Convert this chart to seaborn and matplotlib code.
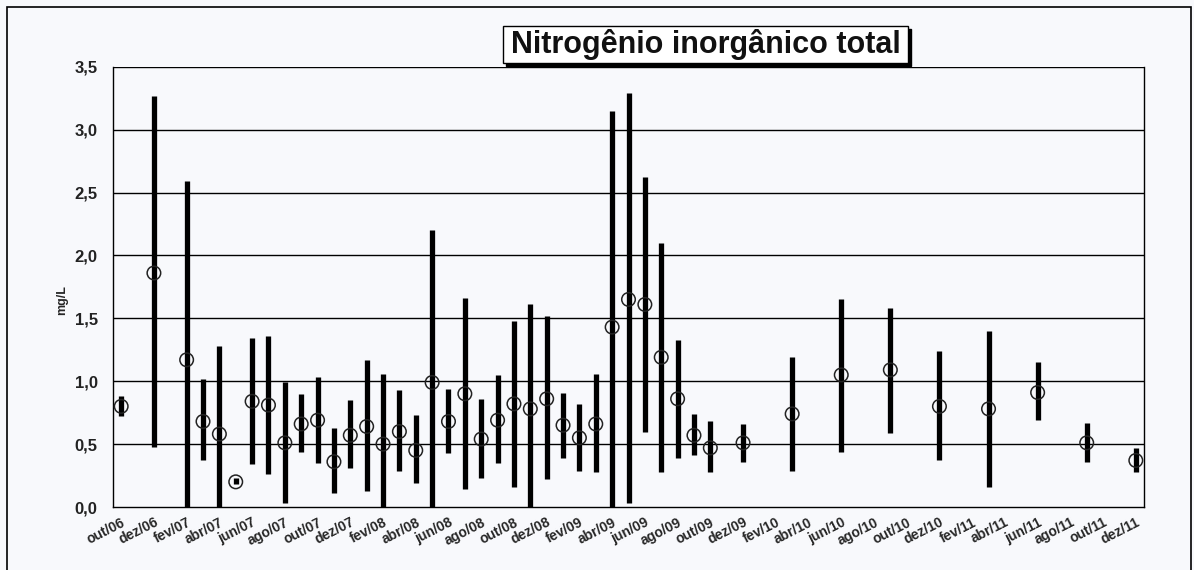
import numpy as np
import pandas as pd
import seaborn as sns
import matplotlib.pyplot as plt
from matplotlib.patches import Rectangle

# eixo mensal out/06 .. dez/11
meses_pt = ['jan', 'fev', 'mar', 'abr', 'mai', 'jun', 'jul', 'ago', 'set', 'out', 'nov', 'dez']
months = []
for ano in range(6, 12):
    for m in meses_pt:
        months.append(f"{m}/{ano:02d}")
months = months[months.index('out/06'):months.index('dez/11') + 1]

# campanhas amostradas (min, max, media) em mg/L
sample_months = ['out/06', 'dez/06', 'fev/07', 'mar/07', 'abr/07', 'mai/07', 'jun/07', 'jul/07',
                 'ago/07', 'set/07', 'out/07', 'nov/07', 'dez/07', 'jan/08', 'fev/08', 'mar/08',
                 'abr/08', 'mai/08', 'jun/08', 'jul/08', 'ago/08', 'set/08', 'out/08', 'nov/08',
                 'dez/08', 'jan/09', 'fev/09', 'mar/09', 'abr/09', 'mai/09', 'jun/09', 'jul/09',
                 'ago/09', 'set/09', 'out/09', 'dez/09', 'mar/10', 'jun/10', 'set/10', 'dez/10',
                 'mar/11', 'jun/11', 'set/11', 'dez/11']
v_min = [0.72, 0.48, 0.00, 0.37, 0.00, 0.18, 0.34, 0.26,
         0.03, 0.44, 0.35, 0.11, 0.31, 0.13, 0.00, 0.29,
         0.19, 0.00, 0.43, 0.14, 0.23, 0.35, 0.16, 0.00,
         0.22, 0.39, 0.29, 0.28, 0.00, 0.03, 0.60, 0.28,
         0.39, 0.41, 0.28, 0.36, 0.29, 0.44, 0.59, 0.37,
         0.16, 0.69, 0.36, 0.28]
v_max = [0.88, 3.27, 2.59, 1.02, 1.28, 0.23, 1.34, 1.36,
         0.99, 0.90, 1.03, 0.63, 0.85, 1.17, 1.06, 0.93,
         0.73, 2.20, 0.94, 1.66, 0.86, 1.05, 1.48, 1.61,
         1.52, 0.91, 0.82, 1.06, 3.15, 3.29, 2.62, 2.10,
         1.33, 0.74, 0.68, 0.66, 1.19, 1.65, 1.58, 1.24,
         1.40, 1.15, 0.67, 0.47]
v_mean = [0.80, 1.86, 1.17, 0.68, 0.58, 0.20, 0.84, 0.81,
          0.51, 0.66, 0.69, 0.36, 0.57, 0.64, 0.50, 0.60,
          0.45, 0.99, 0.68, 0.90, 0.54, 0.69, 0.82, 0.78,
          0.86, 0.65, 0.55, 0.66, 1.43, 1.65, 1.61, 1.19,
          0.86, 0.57, 0.47, 0.51, 0.74, 1.05, 1.09, 0.80,
          0.78, 0.91, 0.51, 0.37]

df = pd.DataFrame({'mes': sample_months, 'min': v_min, 'max': v_max, 'media': v_mean})
df['pos'] = df['mes'].map(months.index)

sns.set_style('white')
plt.rcParams['font.family'] = ['Liberation Sans', 'DejaVu Sans']
bg = '#f8f9fc'
W, H = 1194, 570

fig = plt.figure(figsize=(W / 100, H / 100), dpi=100, facecolor=bg)
ax = fig.add_axes([113 / W, 1 - 507 / H, (1144 - 113) / W, (507 - 66.7) / H])
ax.set_facecolor(bg)

# linhas de grade
for yv in np.arange(0.5, 3.51, 0.5):
    ax.axhline(yv, color='black', lw=1.0, zorder=1)

# barras min-max
ax.vlines(df['pos'], df['min'], df['max'], color='black', lw=3.8, zorder=2)
# media
sns.scatterplot(data=df, x='pos', y='media', ax=ax, marker='o', s=95,
                facecolor='none', edgecolor='#222222', linewidth=1.1, zorder=3)

ax.set_xlim(-0.5, len(months) - 0.5)
ax.set_ylim(0, 3.5)
ax.set_yticks(np.arange(0, 3.51, 0.5))
ax.set_yticklabels([f"{v:.1f}".replace('.', ',') for v in np.arange(0, 3.51, 0.5)],
                   fontsize=12, fontweight='bold', color='#222222')
ax.tick_params(axis='y', direction='out', length=6, width=1, color='black', pad=5)

ax.set_xticks(np.arange(-0.5, len(months) - 0.5, 2))
ax.set_xticklabels([])
ax.set_xticks(np.arange(0, len(months), 2), minor=True)
ax.set_xticklabels(months[::2], minor=True, rotation=27, ha='right', va='top',
                   rotation_mode='anchor', fontsize=10, fontweight='bold')
ax.tick_params(axis='x', which='major', direction='inout', length=8, width=1, color='black')
ax.tick_params(axis='x', which='minor', length=0, pad=6)

ax.set_xlabel('')
ax.set_ylabel('')
for s in ['left', 'bottom', 'right']:
    ax.spines[s].set_visible(True)
    ax.spines[s].set_color('black')
    ax.spines[s].set_linewidth(1.0)
ax.spines['top'].set_visible(False)

fig.text(62 / W, 1 - 300 / H, 'mg/L', rotation=90, ha='center', va='center',
         fontsize=9, fontweight='bold')

# moldura externa
fig.patches.append(Rectangle((7 / W, -0.05), (1191 - 7) / W, 1.05 - 7 / H,
                             transform=fig.transFigure, fill=False, ec='black', lw=1.2))

# titulo em caixa com sombra
bx0, bx1, by0, by1 = 503, 908, 26, 63
fig.patches.append(Rectangle(((bx0 + 3) / W, 1 - (by1 + 3) / H), (bx1 - bx0) / W, (by1 - by0) / H,
                             transform=fig.transFigure, fc='black', ec='black', lw=1, zorder=4))
fig.patches.append(Rectangle((bx0 / W, 1 - by1 / H), (bx1 - bx0) / W, (by1 - by0) / H,
                             transform=fig.transFigure, fc='white', ec='black', lw=1, zorder=5))
fig.text((bx0 + bx1) / 2 / W, 1 - (by0 + by1) / 2 / H, 'Nitrogênio inorgânico total',
         ha='center', va='center', fontsize=22, fontweight='bold', color='#111111', zorder=6)

fig.savefig('out.png', dpi=100, facecolor=bg)
